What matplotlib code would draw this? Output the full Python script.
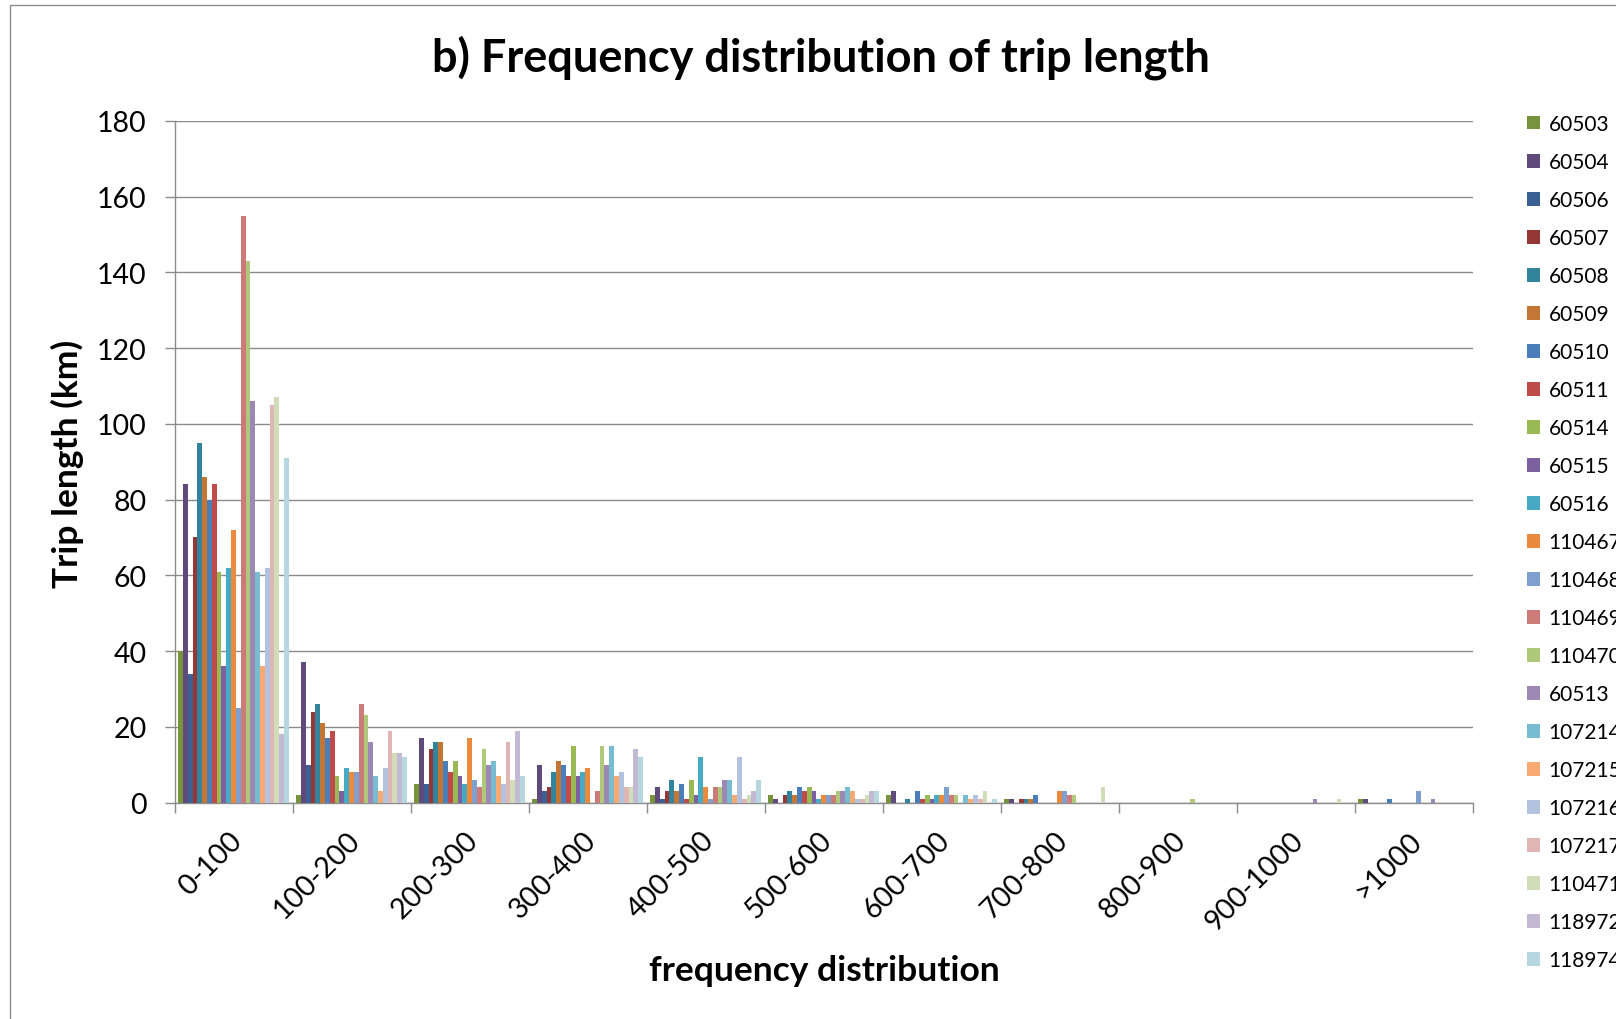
import numpy as np
import matplotlib
matplotlib.use("Agg")
import matplotlib.pyplot as plt
from matplotlib.patches import Rectangle
from matplotlib.transforms import ScaledTranslation

plt.rcParams["font.family"] = ["Lato", "DejaVu Sans"]

# trip length bins (x categories)
categories = ["0-100", "100-200", "200-300", "300-400", "400-500", "500-600",
              "600-700", "700-800", "800-900", "900-1000", ">1000"]

# vehicle ids, in legend order
series = ["60503", "60504", "60506", "60507", "60508", "60509", "60510", "60511",
          "60514", "60515", "60516", "110467", "110468", "110469", "110470", "60513",
          "107214", "107215", "107216", "107217", "110471", "118972", "118974"]

colors = ["#77933C", "#604A7B", "#3B6194", "#953735", "#31849B", "#C47634", "#4A7EBB",
          "#BE4B48", "#98B954", "#7D60A0", "#46AAC5", "#EB8A3C", "#7F9FCF", "#CD7B79",
          "#AFC97A", "#9D88B5", "#78BCD2", "#F9A972", "#B3C2DF", "#E0B6B5", "#D0DDB8",
          "#C3B9D3", "#B6D7E0"]

# counts per bin, one value per vehicle (same order as series)
bin_0_100 = [40, 84, 34, 70, 95, 86, 80, 84, 61, 36, 62, 72, 25, 155, 143, 106, 61, 36, 62, 105, 107, 18, 91]
bin_100_200 = [2, 37, 10, 24, 26, 21, 17, 19, 7, 3, 9, 8, 8, 26, 23, 16, 7, 3, 9, 19, 13, 13, 12]
bin_200_300 = [5, 17, 5, 14, 16, 16, 11, 8, 11, 7, 5, 17, 6, 4, 14, 10, 11, 7, 5, 16, 6, 19, 7]
bin_300_400 = [1, 10, 3, 4, 8, 11, 10, 7, 15, 7, 8, 9, 0, 3, 15, 10, 15, 7, 8, 4, 4, 14, 12]
bin_400_500 = [2, 4, 1, 3, 6, 3, 5, 1, 6, 2, 12, 4, 1, 4, 4, 6, 6, 2, 12, 1, 2, 3, 6]
bin_500_600 = [2, 1, 0, 2, 3, 2, 4, 3, 4, 3, 1, 2, 2, 2, 3, 3, 4, 3, 1, 1, 2, 3, 3]
bin_600_700 = [2, 3, 0, 0, 1, 0, 3, 1, 2, 1, 2, 2, 4, 2, 2, 0, 2, 1, 2, 1, 3, 0, 1]
bin_700_800 = [1, 1, 0, 1, 1, 1, 2, 0, 0, 0, 0, 3, 3, 2, 2, 0, 0, 0, 0, 0, 4, 0, 0]
bin_800_900 = [0, 0, 0, 0, 0, 0, 0, 0, 0, 0, 0, 0, 0, 0, 1, 0, 0, 0, 0, 0, 0, 0, 0]
bin_900_1000 = [0, 0, 0, 0, 0, 0, 0, 0, 0, 0, 0, 0, 0, 0, 0, 1, 0, 0, 0, 0, 1, 0, 0]
bin_over_1000 = [1, 1, 0, 0, 0, 0, 1, 0, 0, 0, 0, 0, 3, 0, 0, 1, 0, 0, 0, 0, 0, 0, 0]

counts = np.array([bin_0_100, bin_100_200, bin_200_300, bin_300_400, bin_400_500,
                   bin_500_600, bin_600_700, bin_700_800, bin_800_900, bin_900_1000,
                   bin_over_1000])

GREY = "#8c8c8c"

fig = plt.figure(figsize=(16.16, 10.2), dpi=100)
ax = fig.add_axes([174.5 / 1616, 1 - 803.5 / 1020, 1298.2 / 1616, 681.5 / 1020])

n = len(series)
slot = 1 / (n + 1.5)  # excel-like gap width of 150%
x = np.arange(len(categories))
for i, name in enumerate(series):
    ax.bar(x - n * slot / 2 + (i + 0.5) * slot, counts[:, i], width=slot,
           color=colors[i], label=name, linewidth=0, zorder=3)

ax.set_xlim(-0.5, len(categories) - 0.5)
ax.set_ylim(0, 180)
ax.set_yticks(range(0, 181, 20))
ax.yaxis.grid(True, color=GREY, lw=1.0)
ax.set_axisbelow(True)
for side in ("top", "right"):
    ax.spines[side].set_visible(False)
for side in ("left", "bottom"):
    ax.spines[side].set_color(GREY)
    ax.spines[side].set_linewidth(1.0)

ax.tick_params(axis="y", length=7.2, width=1, color=GREY, labelsize=20.5, pad=13)
ax.set_xticks(x)
ax.set_xticklabels(categories)
ax.set_xticks(np.arange(-0.5, len(categories), 1), minor=True)
ax.tick_params(axis="x", which="minor", length=7.2, width=1, color=GREY)
ax.tick_params(axis="x", which="major", length=0, pad=24, labelsize=20.5)
shift = ScaledTranslation(4 / 100, 0, fig.dpi_scale_trans)
for lbl in ax.get_xticklabels():
    lbl.set_rotation(45)
    lbl.set_ha("right")
    lbl.set_va("center")
    lbl.set_rotation_mode("anchor")
    lbl.set_transform(lbl.get_transform() + shift)

fig.text(821 / 1616, 1 - 58 / 1020, "b) Frequency distribution of trip length",
         ha="center", va="center", fontsize=32.5, fontweight="bold")
fig.text(67 / 1616, 1 - 464 / 1020, "Trip length (km)", rotation=90,
         ha="center", va="center", fontsize=25.5, fontweight="bold")
fig.text(824 / 1616, 1 - 971 / 1020, "frequency distribution",
         ha="center", va="center", fontsize=25.5, fontweight="bold")

# legend runs past the right edge, as in the original chart
fig.legend(loc="upper left", bbox_to_anchor=(1527 / 1616, 1 - 115 / 1020),
           frameon=False, fontsize=15, handlelength=0.63, handleheight=0.63,
           handletextpad=0.4, labelspacing=0.865, borderpad=0, borderaxespad=0)

# chart area frame (right/bottom edges fall outside the image)
fig.patches.append(Rectangle((10 / 1616, -0.05), 1.1, (1020 - 5.7) / 1020 + 0.05,
                             transform=fig.transFigure, fill=False, ec=GREY, lw=1.0))

fig.savefig("out.png", dpi=100)
